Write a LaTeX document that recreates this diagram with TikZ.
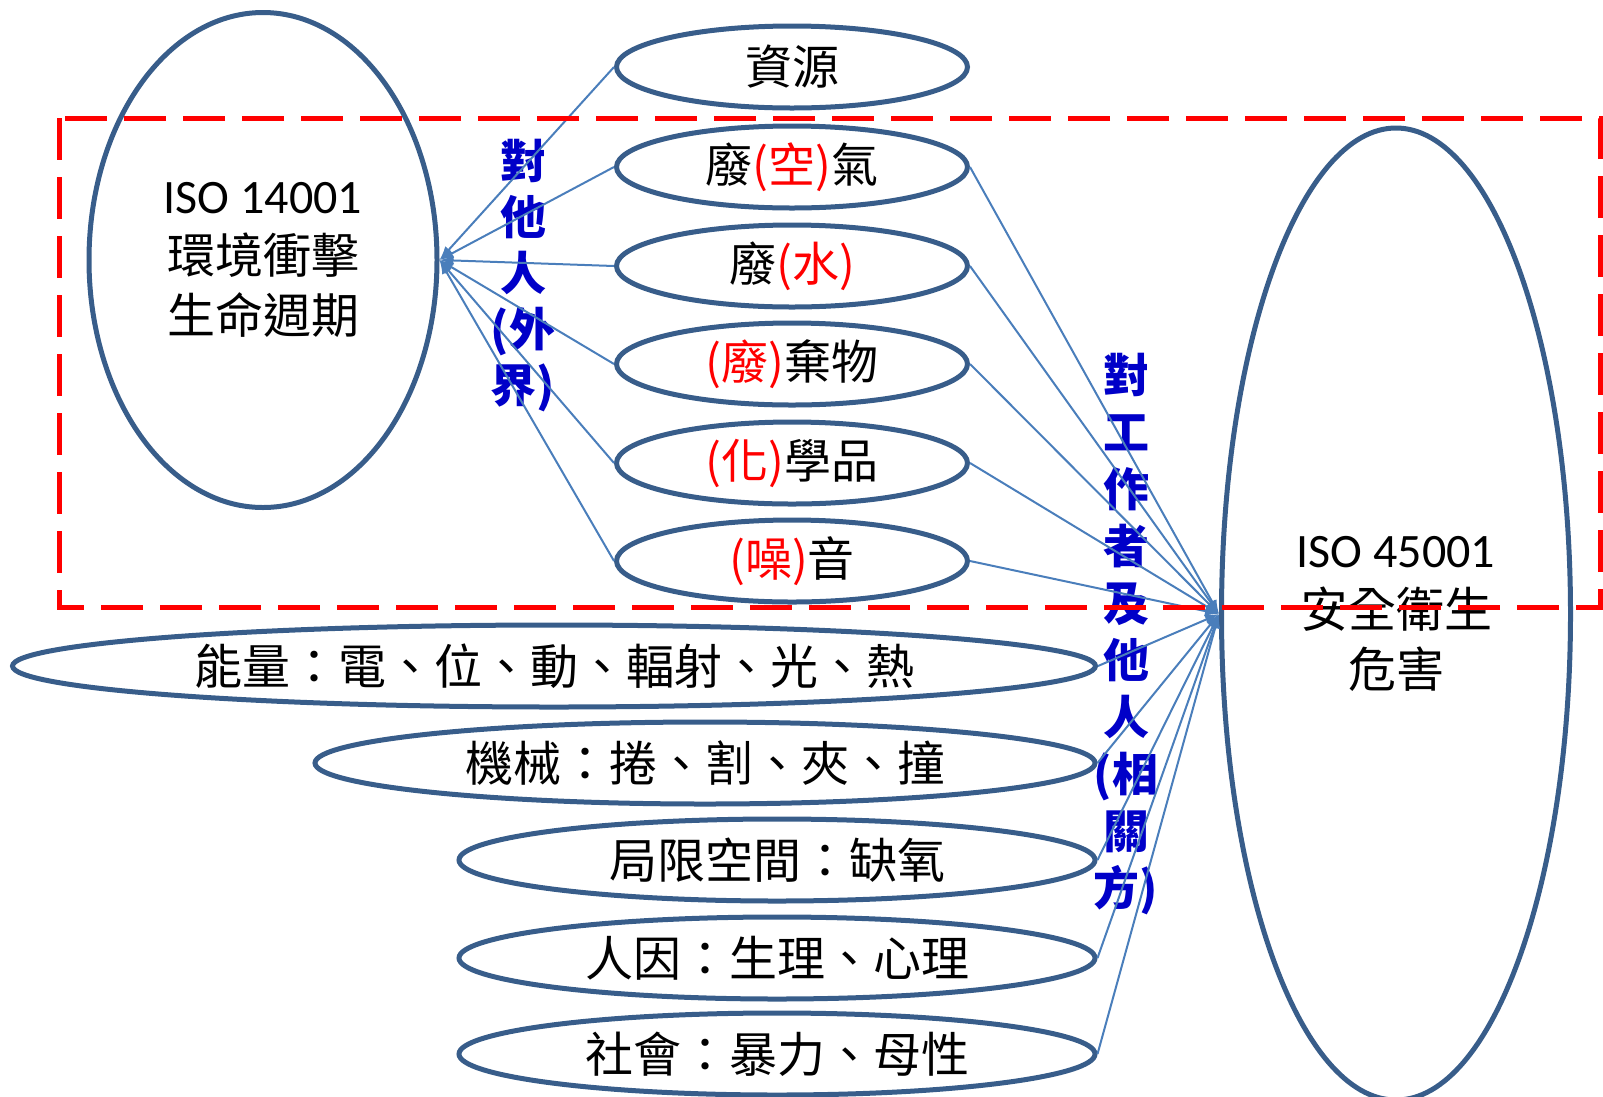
\documentclass[tikz,border=0pt]{standalone}
\usepackage{fontspec}
\setmainfont{Carlito}
\newfontfamily\cjk{Noto Sans CJK TC}
\usetikzlibrary{shapes.geometric,arrows.meta}
\definecolor{ellblue}{RGB}{56,93,138}
\definecolor{lineblue}{RGB}{74,126,187}
\definecolor{txtblue}{RGB}{0,0,200}
\begin{document}
\begin{tikzpicture}[x=1pt,y=-1pt,
  oval/.style={ellipse, draw=ellblue, line width=5pt, inner sep=0pt, align=center,
    font=\cjk\fontsize{48}{60}\selectfont},
  small/.style={oval, minimum width=351pt, minimum height=82pt,
    font=\cjk\fontsize{47}{58}\selectfont},
  wide/.style={oval, minimum height=82pt},
  conn/.style={draw=lineblue, line width=2pt, -{Latex[length=14pt,width=10pt]}},
  vlabel/.style={text=txtblue, align=center, inner sep=0pt}]
\useasboundingbox (0,0) rectangle (1603,1096);
% big ellipses
\node[oval, minimum width=348pt, minimum height=495pt] (L) at (263,260)
  {{\rmfamily ISO 14001}\\環境衝擊\\生命週期};
\node[oval, minimum width=349pt, minimum height=972pt] (R) at (1396,614)
  {{\rmfamily ISO 45001}\\安全衛生\\危害};
% small ellipses
\node[small] (s1) at (792,67) {資源};
\node[small] (s2) at (792,167) {廢\textcolor{red}{(空)}氣};
\node[small] (s3) at (792,266) {廢\textcolor{red}{(水)}};
\node[small] (s4) at (792,364) {\textcolor{red}{(廢)}棄物};
\node[small] (s5) at (792,463) {\textcolor{red}{(化)}學品};
\node[small] (s6) at (792,561) {\textcolor{red}{(噪)}音};
% wide ellipses
\node[wide, minimum width=1083pt] (b1) at (554,666) {能量：電、位、動、輻射、光、熱};
\node[wide, minimum width=780pt] (b2) at (705,763) {機械：捲、割、夾、撞};
\node[wide, minimum width=636pt] (b3) at (777,860) {局限空間：缺氧};
\node[wide, minimum width=636pt] (b4) at (777,958) {人因：生理、心理};
\node[wide, minimum width=636pt] (b5) at (777,1054) {社會：暴力、母性};
% vertical labels
\node[vlabel, font=\cjk\bfseries\fontsize{46}{56}\selectfont] (t1) at (523,276)
  {對\\他\\人\\(外\\界)};
\node[vlabel, font=\cjk\bfseries\fontsize{46}{57}\selectfont] (t2) at (1126,634)
  {對\\工\\作\\者\\及\\他\\人\\(相\\關\\方)};
% connectors
\foreach \n in {s1,s2,s3,s4,s5,s6} \draw[conn] (\n.west) -- (L.east);
\foreach \n in {s2,s3,s4,s5,s6} \draw[conn] (\n.east) -- (R.west);
\foreach \n in {b1,b2,b3,b4,b5} \draw[conn] (\n.east) -- (R.west);
% red dashed frame
\draw[red, line width=5pt, dash pattern=on 42pt off 17pt] (59,118) rectangle (1600,607);
\end{tikzpicture}
\end{document}
